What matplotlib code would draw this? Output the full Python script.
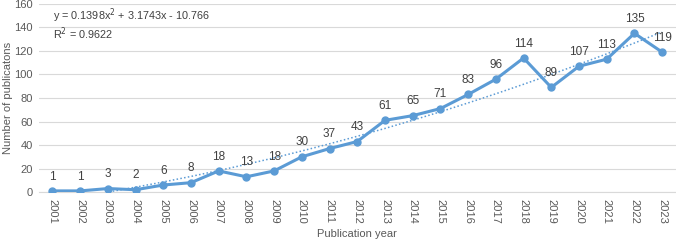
import matplotlib.pyplot as plt
import numpy as np

plt.rcParams['font.family'] = ['Liberation Sans', 'DejaVu Sans']

years = [str(y) for y in range(2001, 2024)]
pubs = [1, 1, 3, 2, 6, 8, 18, 13, 18, 30, 37, 43, 61, 65, 71, 83, 96, 114, 89, 107, 113, 135, 119]

# polynomial trendline coefficients as printed on the chart
trend_coef = [0.1398, 3.1743, -10.766]
trend_label = "y = 0.1398x$^{2}$ + 3.1743x - 10.766\nR$^{2}$ = 0.9622"

blue = '#5B9BD5'
txt = '#404040'

fig = plt.figure(figsize=(6.76, 2.45), dpi=100)
ax = fig.add_axes([0.057, 0.216, 0.943, 0.768])

x = np.arange(len(years))
ax.plot(x, pubs, color=blue, lw=2.2, marker='o', ms=5, zorder=3)

xt = np.arange(1, len(years) + 1)
trend = np.polyval(trend_coef, xt)
ax.plot(x, trend, color=blue, lw=1.1, ls=(0, (1, 1.5)), zorder=2)

for xi, v in zip(x, pubs):
    ax.annotate(str(v), (xi, v), xytext=(0, 6), textcoords='offset points',
                ha='center', va='bottom', fontsize=8.5, color=txt)

ax.text(0.022, 0.985, trend_label, transform=ax.transAxes, ha='left', va='top',
        fontsize=7.8, color=txt, linespacing=1.0)

ax.set_xlim(-0.5, len(years) - 0.5)
ax.set_ylim(0, 160)
ax.set_yticks(range(0, 161, 20))
ax.set_xticks(x)
ax.set_xticklabels(years, rotation=270, fontsize=8, color='#595959')
ax.tick_params(axis='y', labelsize=8, colors='#595959', length=0, pad=4)
ax.tick_params(axis='x', length=0, pad=5)
ax.grid(axis='y', color='#D9D9D9', lw=0.8)
ax.set_axisbelow(True)
for s in ['top', 'right', 'left']:
    ax.spines[s].set_visible(False)
ax.spines['bottom'].set_color('#D9D9D9')

ax.set_ylabel("Number of publicatons", fontsize=8, color='#595959', labelpad=1)
ax.set_xlabel("Publication year", fontsize=8, color='#595959', labelpad=4)

fig.savefig('out.png', dpi=100)
